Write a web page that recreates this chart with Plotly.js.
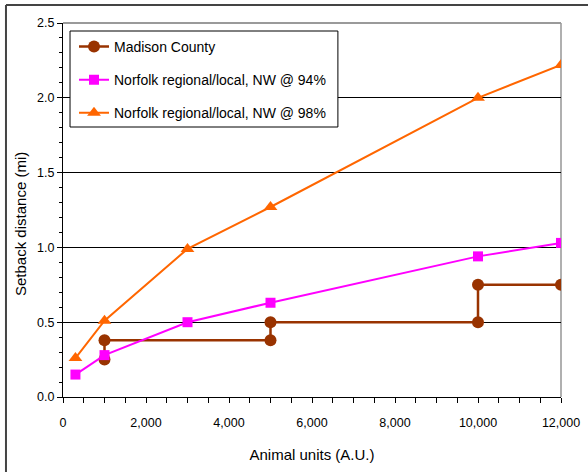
<!DOCTYPE html>
<html>
<head>
<meta charset="utf-8">
<script src="https://cdn.plot.ly/plotly-3.0.1.min.js"></script>
<style>
html,body{margin:0;padding:0;background:#fff;}
#chart{width:588px;height:472px;}
</style>
</head>
<body>
<div id="chart"></div>
<script>
// Data
const seriesNames = ["Madison County", "Norfolk regional/local, NW @ 94%", "Norfolk regional/local, NW @ 98%"];
const madisonX = [1000, 1000, 5000, 5000, 10000, 10000, 12000];
const madisonY = [0.25, 0.38, 0.38, 0.50, 0.50, 0.75, 0.75];
const nw94X = [300, 1000, 3000, 5000, 10000, 12000];
const nw94Y = [0.15, 0.28, 0.50, 0.63, 0.94, 1.03];
const nw98X = [300, 1000, 3000, 5000, 10000, 12000];
const nw98Y = [0.26, 0.51, 0.99, 1.27, 2.00, 2.22];
const xTickVals = [0, 2000, 4000, 6000, 8000, 10000, 12000];
const yTickVals = [0.0, 0.5, 1.0, 1.5, 2.0, 2.5];
const xTitle = "Animal units (A.U.)";
const yTitle = "Setback distance (mi)";

const font = "Liberation Sans, Arial, sans-serif";

const traces = [
  {x: madisonX, y: madisonY, name: seriesNames[0], type: "scatter", mode: "lines+markers",
   legendgroup: "a",
   line: {color: "#993300", width: 2.5},
   marker: {symbol: "circle", size: 12, color: "#993300"}},
  {x: nw94X, y: nw94Y, name: seriesNames[1], type: "scatter", mode: "lines+markers",
   legendgroup: "b",
   line: {color: "#FF00FF", width: 2},
   marker: {symbol: "square", size: 10, color: "#FF00FF"}},
  {x: nw98X, y: nw98Y, name: seriesNames[2], type: "scatter", mode: "lines+markers",
   legendgroup: "c",
   line: {color: "#FF6600", width: 2},
   marker: {symbol: "triangle-up", size: 12, color: "#FF6600"}}
];

const layout = {
  width: 588, height: 472,
  margin: {l: 63, r: 27, t: 23, b: 75},
  paper_bgcolor: "#fff", plot_bgcolor: "#fff",
  font: {family: font, size: 13, color: "#000"},
  showlegend: true,
  legend: {
    x: 0.0221, y: 0.979, xanchor: "left", yanchor: "top",
    bgcolor: "rgba(0,0,0,0)", borderwidth: 0,
    font: {family: font, size: 14, color: "#000"},
    traceorder: "grouped", tracegroupgap: 12
  },
  xaxis: {
    range: [0, 12000], tickvals: xTickVals, tickformat: ",d",
    showline: true, linecolor: "#000", linewidth: 1,
    ticks: "outside", ticklen: 5, tickcolor: "#000",
    ticklabelstandoff: 9,
    showgrid: false, zeroline: false,
    minor: {dtick: 500, ticks: "outside", ticklen: 5, tickcolor: "#000", showgrid: false},
    tickfont: {family: font, size: 12.5},
    title: {text: xTitle, font: {family: font, size: 15}, standoff: 20}
  },
  yaxis: {
    range: [0, 2.5], tickvals: yTickVals, tickformat: ".1f",
    showline: true, linecolor: "#000", linewidth: 1,
    ticks: "outside", ticklen: 5, tickcolor: "#000",
    showgrid: true, gridcolor: "#000", gridwidth: 1, zeroline: false,
    minor: {dtick: 0.1, ticks: "outside", ticklen: 3, tickcolor: "#000", showgrid: false},
    tickfont: {family: font, size: 12.5}
  },
  annotations: [
    {text: yTitle, xref: "paper", yref: "paper", x: -0.0843, y: 0.4626,
     xanchor: "center", yanchor: "middle", textangle: -90, showarrow: false,
     font: {family: font, size: 15, color: "#000"}}
  ],
  shapes: [
    // plot-area top and right borders (gray)
    {type: "line", xref: "paper", yref: "paper", x0: 0, x1: 1, y0: 1, y1: 1, line: {color: "#9a9a9a", width: 2}, layer: "above"},
    {type: "line", xref: "paper", yref: "paper", x0: 1, x1: 1, y0: 0, y1: 1, line: {color: "#b0b0b0", width: 2}, layer: "below"},
    // legend box
    {type: "rect", xref: "paper", yref: "paper", x0: 0.0141, x1: 0.552, y0: 0.7219, y1: 0.9786,
     fillcolor: "#fff", line: {color: "#000", width: 1}, layer: "above"},
    // outer frame (top and left)
    {type: "line", xref: "paper", yref: "paper", x0: -0.1145, x1: 1.06, y0: 1.048, y1: 1.048, line: {color: "#444", width: 2}},
    {type: "line", xref: "paper", yref: "paper", x0: -0.1145, x1: -0.1145, y0: 1.048, y1: -0.21, line: {color: "#444", width: 2}}
  ]
};

Plotly.newPlot("chart", traces, layout, {displayModeBar: false, staticPlot: true});
</script>
</body>
</html>
